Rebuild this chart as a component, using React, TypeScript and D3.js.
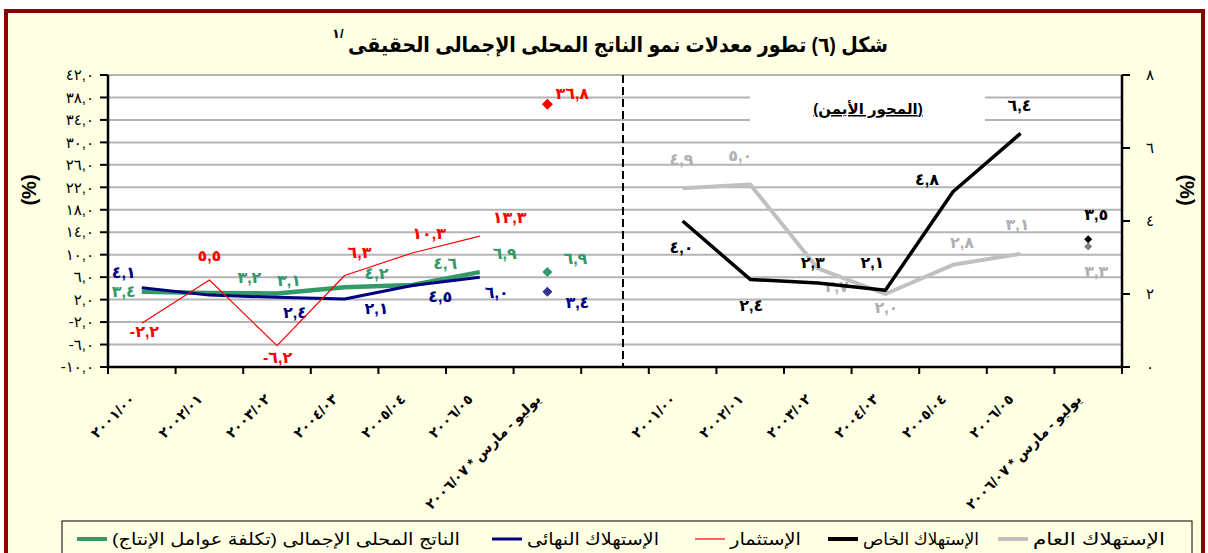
import * as d3 from "d3";

// categories (15 slots: 7 left, 1 gap, 7 right)
const periods = [
  "٢٠٠١/٠٠",
  "٢٠٠٢/٠١",
  "٢٠٠٣/٠٢",
  "٢٠٠٤/٠٣",
  "٢٠٠٥/٠٤",
  "٢٠٠٦/٠٥",
  "يوليو - مارس * ٢٠٠٦/٠٧",
];

// left axis series (annual values, then Jul-Mar diamond)
const gdpFactorCost = [3.4, 3.2, 3.1, 4.2, 4.6, 6.9];
const gdpFactorCostLast = 6.9;
const finalConsumption = [4.1, 2.8, 2.4, 2.1, 4.5, 6.0];
const finalConsumptionLast = 3.4;
const investment = [-2.2, 5.5, -6.2, 6.3, 10.3, 13.3];
const investmentLast = 36.8;

// right axis series
const privateConsumption = [4.0, 2.4, 2.3, 2.1, 4.8, 6.4];
const privateConsumptionLast = 3.5;
const govConsumption = [4.9, 5.0, 2.7, 2.0, 2.8, 3.1];
const govConsumptionLast = 3.3;

const leftTicks = [-10, -6, -2, 2, 6, 10, 14, 18, 22, 26, 30, 34, 38, 42];
const rightTicks = [0, 2, 4, 6, 8];

const legendNames = [
  "الناتج المحلى الإجمالى (تكلفة عوامل الإنتاج)",
  "الإستهلاك النهائى",
  "الإستثمار",
  "الإستهلاك الخاص",
  "الإستهلاك العام",
];

// label offsets [dx, dy] from the point, null = no label (last one is the diamond)
const offGreen = [[-30, 0], [28, -15], [0, -13], [20, -14], [21, -22], [13, -19], [16, -14]];
const offNavy = [[-30, -15], null, [6, 15], [20, 9], [16, 11], [5, 15], [18, 11]];
const offRed = [[-12, 8], [-12, -25], [-14, 12], [3, -23], [0, -20], [13, -19], [8, -11]];
const offBlack = [[-13, 26], [-11, 26], [-17, -21], [-25, -28], [-38, -12], [-13, -28], [-4, -25]];
const offGray = [[-13, -29], [-22, -29], [7, 18], [-11, 13], [-3, -22], [-15, -29], [-4, 25]];

const W = 1208;
const H = 553;
const FONT = "Arial, 'Liberation Sans', 'DejaVu Sans', sans-serif";
const BG = "#ffffe3";

const digits = "٠١٢٣٤٥٦٧٨٩";
const toAr = (s: string) => s.replace(/[0-9]/g, (d) => digits[+d]);
const fmt = (v: number) => toAr(v.toFixed(1).replace(".", ","));

const x = d3.scaleBand<number>().domain(d3.range(15)).range([108, 1122]);
const cx = (i: number) => (x(i) as number) + x.bandwidth() / 2;
const yL = d3.scaleLinear().domain([-10, 42]).range([367, 75]);
const yR = d3.scaleLinear().domain([0, 8]).range([367, 75]);

const diamond = (size: number) => d3.symbol(d3.symbolSquare, size)() as string;

function Series({ vals, last, start, y, color, width, off, labelColor, dSize, dColor }: any) {
  const line = d3
    .line<number>()
    .x((_, i) => cx(start + i))
    .y((d) => y(d));
  const all = [...vals, last];
  return (
    <g>
      <path d={line(vals) as string} fill="none" stroke={color} strokeWidth={width} strokeLinejoin="round" />
      <path
        d={diamond(dSize)}
        transform={`translate(${cx(start + 6)},${y(last)}) rotate(45)`}
        fill={dColor}
      />
      {all.map((v: number, i: number) =>
        off[i] ? (
          <text
            key={i}
            x={cx(start + i) + off[i][0]}
            y={y(v) + off[i][1]}
            dy="0.35em"
            fill={labelColor}
            fontSize={16}
            fontWeight="bold"
            letterSpacing={1.5}
            fontFamily={FONT}
          >
            {fmt(v)}
          </text>
        ) : null
      )}
    </g>
  );
}

export default function App() {
  const catIdx = [...d3.range(7), ...d3.range(8, 15)];
  const legendX = [77, 492, 695, 828, 998];
  const legendLen = [348, 132, 71, 116, 132];
  const legendColors = ["#339966", "#000080", "#ff0000", "#000000", "#c0c0c0"];
  const legendWidths = [4, 3, 1.2, 4, 4];
  return (
    <svg width={W} height={H} style={{ position: "absolute", left: 0, top: 0 }}>
      <rect x={0} y={0} width={W} height={H} fill="#ffffff" />
      <rect x={6} y={11} width={1197} height={560} fill={BG} stroke="#8b0000" strokeWidth={4} />
      <text
        x={348}
        y={52}
        fontSize={21}
        fontWeight="bold"
        fontFamily={FONT}
        textLength={540}
        lengthAdjust="spacingAndGlyphs"
      >
        شكل (٦) تطور معدلات نمو الناتج المحلى الإجمالى الحقيقى
      </text>
      <text x={332} y={38} fontSize={13} fontWeight="bold" fontFamily={FONT}>
        ١/
      </text>

      {/* plot area */}
      <rect x={108} y={75} width={1014} height={292} fill="#ffffff" />
      {leftTicks.slice(1).map((t) => (
        <line key={t} x1={108} x2={1122} y1={yL(t)} y2={yL(t)} stroke="#b4b4b4" strokeWidth={2} />
      ))}
      <rect x={750} y={88} width={235} height={40} fill="#ffffff" />
      <text
        x={868}
        y={114}
        textAnchor="middle"
        fontSize={15}
        fontWeight="bold"
        textDecoration="underline"
        fontFamily={FONT}
      >
        (المحور الأيمن)
      </text>
      <line x1={623} x2={623} y1={75} y2={367} stroke="#000" strokeWidth={2} strokeDasharray="8 4" />

      {/* axes */}
      <line x1={108} x2={108} y1={75} y2={368} stroke="#000" strokeWidth={2.5} />
      <line x1={1122} x2={1122} y1={75} y2={368} stroke="#000" strokeWidth={2.5} />
      <line x1={107} x2={1123} y1={367} y2={367} stroke="#000" strokeWidth={2.5} />
      {leftTicks.map((t) => (
        <g key={t}>
          <line x1={100} x2={108} y1={yL(t)} y2={yL(t)} stroke="#000" strokeWidth={2} />
          <text
            x={94}
            y={yL(t)}
            dy="0.35em"
            textAnchor="end"
            fontSize={15}
            letterSpacing={4}
            fontFamily={FONT}
          >
            {fmt(t)}
          </text>
        </g>
      ))}
      {rightTicks.map((t) => (
        <g key={t}>
          <line x1={1122} x2={1130} y1={yR(t)} y2={yR(t)} stroke="#000" strokeWidth={2} />
          <text x={1150} y={yR(t)} dy="0.35em" textAnchor="middle" fontSize={15} fontFamily={FONT}>
            {toAr(String(t))}
          </text>
        </g>
      ))}
      {d3.range(16).map((i) => {
        const px = i < 15 ? (x(i) as number) : 1122;
        return <line key={i} x1={px} x2={px} y1={367} y2={374} stroke="#000" strokeWidth={2} />;
      })}
      {catIdx.map((ci, k) => (
        <text
          key={ci}
          transform={`translate(${cx(ci) - 6},${400}) rotate(-45)`}
          textAnchor="end"
          fontSize={14}
          fontWeight="bold"
          fontFamily={FONT}
        >
          {periods[k % 7]}
        </text>
      ))}
      <text
        transform="translate(36,190) rotate(-90)"
        textAnchor="middle"
        fontSize={20}
        fontWeight="bold"
        fontFamily={FONT}
      >
        (%)
      </text>
      <text
        transform="translate(1180,190) rotate(90)"
        textAnchor="middle"
        fontSize={20}
        fontWeight="bold"
        fontFamily={FONT}
      >
        (%)
      </text>

      {/* series */}
      <Series vals={govConsumption} last={govConsumptionLast} start={8} y={yR} color="#c0c0c0" width={4}
        off={offGray} labelColor="#b0b0b0" dSize={32} dColor="#808080" />
      <Series vals={privateConsumption} last={privateConsumptionLast} start={8} y={yR} color="#000" width={3.5}
        off={offBlack} labelColor="#000" dSize={32} dColor="#000" />
      <Series vals={gdpFactorCost} last={gdpFactorCostLast} start={0} y={yL} color="#339966" width={4.5}
        off={offGreen} labelColor="#339966" dSize={50} dColor="#339966" />
      <Series vals={finalConsumption} last={finalConsumptionLast} start={0} y={yL} color="#000080" width={3}
        off={offNavy} labelColor="#000080" dSize={50} dColor="#333399" />
      <Series vals={investment} last={investmentLast} start={0} y={yL} color="#ff0000" width={1.2}
        off={offRed} labelColor="#ff0000" dSize={61} dColor="#ff0000" />

      {/* legend */}
      <rect x={62} y={521} width={1130} height={40} fill={BG} stroke="#000" strokeWidth={1} />
      {legendNames.map((n, i) => (
        <g key={n}>
          <line x1={legendX[i]} x2={legendX[i] + 30} y1={539} y2={539} stroke={legendColors[i]} strokeWidth={legendWidths[i]} />
          <text
            x={legendX[i] + 35}
            y={545}
            fontSize={17}
            fontFamily={FONT}
            textLength={legendLen[i]}
            lengthAdjust="spacingAndGlyphs"
          >
            {n}
          </text>
        </g>
      ))}
    </svg>
  );
}
